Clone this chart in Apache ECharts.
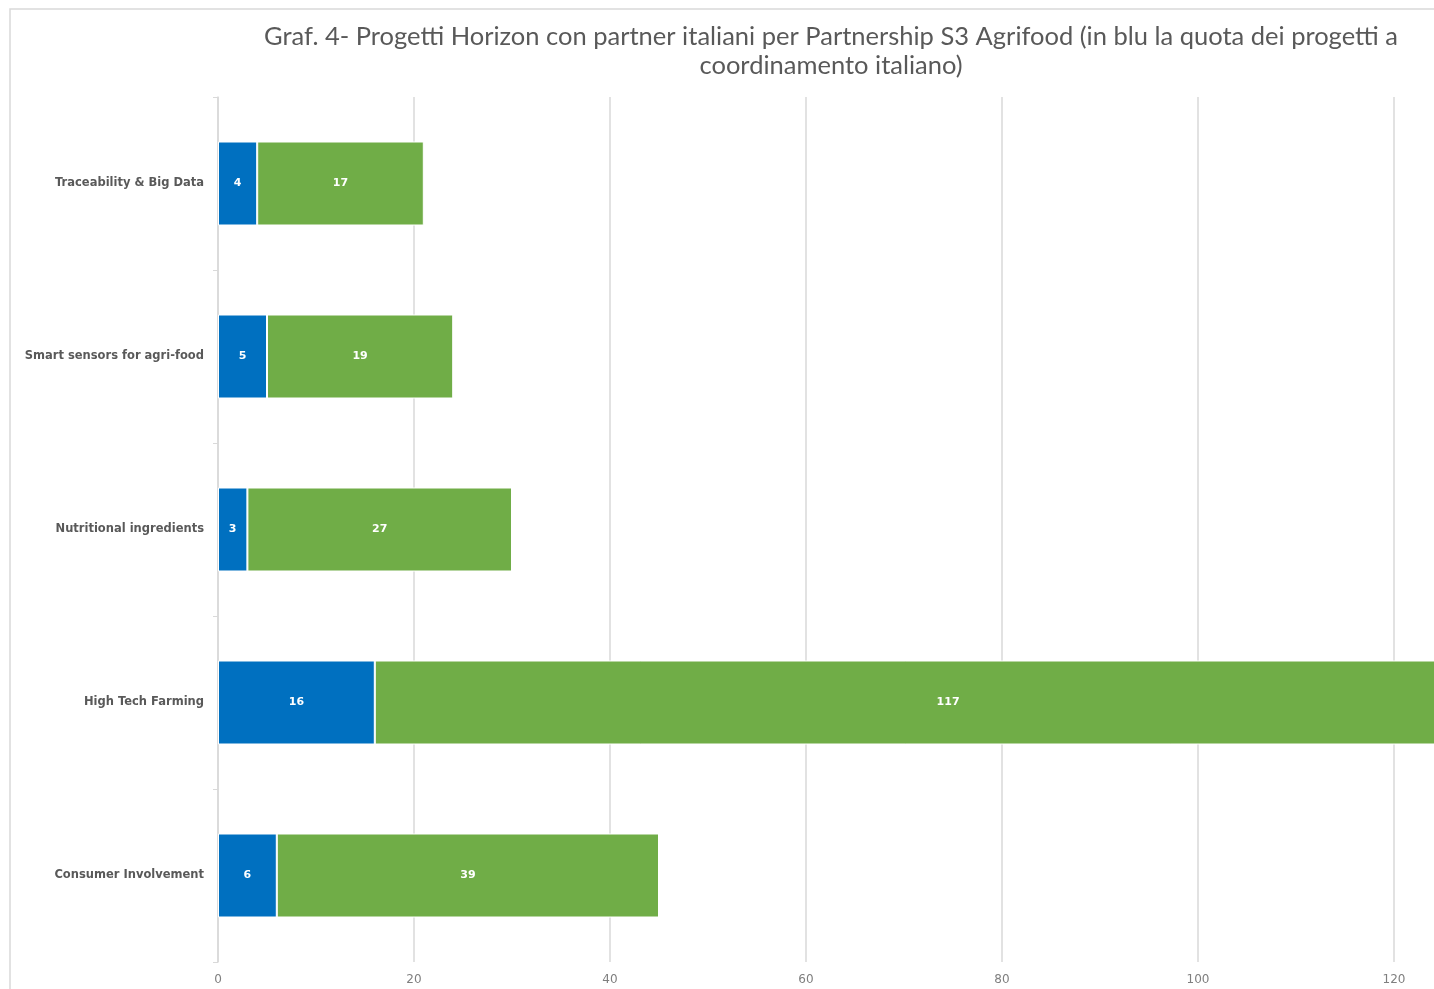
<!DOCTYPE html>
<html>
<head>
<meta charset="utf-8">
<script src="https://cdn.jsdelivr.net/npm/echarts@6/dist/echarts.min.js"></script>
<style>
html,body{margin:0;padding:0;background:#fff;}
#chart{width:1434px;height:989px;}
</style>
</head>
<body>
<div id="chart"></div>
<script>
var categories = ["Consumer Involvement", "High Tech Farming", "Nutritional ingredients", "Smart sensors for agri-food", "Traceability & Big Data"];
var coordIT = [6, 16, 3, 5, 4];
var others = [39, 117, 27, 19, 17];
var titleText = "Graf. 4- Progetti Horizon con partner italiani per Partnership S3 Agrifood (in blu la quota dei progetti a\ncoordinamento italiano)";

var chart = echarts.init(document.getElementById('chart'), null, {renderer: 'canvas'});
var labelStyle = {show: true, position: 'inside', color: '#ffffff', fontWeight: 'bold', fontSize: 11, fontFamily: 'DejaVu Sans'};
chart.setOption({
  animation: false,
  title: {
    text: titleText,
    left: 826, top: 17, textAlign: 'center',
    textStyle: {fontFamily: 'Lato', fontWeight: 'normal', fontSize: 25.5, color: '#595959', lineHeight: 29}
  },
  graphic: [{
    type: 'rect', shape: {x: 10, y: 9, width: 1600, height: 1200},
    style: {fill: 'none', stroke: '#d9d9d9', lineWidth: 1.5}, silent: true
  }],
  grid: {left: 218, top: 97, height: 865, width: 1372, containLabel: false, outerBoundsMode: 'none'},
  xAxis: {
    type: 'value', min: 0, max: 140, interval: 20,
    axisLine: {show: false}, axisTick: {show: false},
    splitLine: {show: true, lineStyle: {color: '#d9d9d9', width: 1.5}},
    axisLabel: {color: '#7f7f7f', fontSize: 12, fontFamily: 'DejaVu Sans', margin: 12}
  },
  yAxis: {
    type: 'category', data: categories,
    axisLine: {show: true, lineStyle: {color: '#d9d9d9', width: 1.5}},
    axisTick: {show: true, length: 5, lineStyle: {color: '#d9d9d9'}},
    axisLabel: {color: '#595959', fontSize: 11.5, fontWeight: 'bold', fontFamily: 'DejaVu Sans', margin: 14}
  },
  series: [
    {name: 'Coordinamento italiano', type: 'bar', stack: 'tot', data: coordIT, barWidth: 84,
     itemStyle: {color: '#0070C0', borderColor: '#ffffff', borderWidth: 1}, label: labelStyle},
    {name: 'Altri', type: 'bar', stack: 'tot', data: others, barWidth: 84,
     itemStyle: {color: '#70AD47', borderColor: '#ffffff', borderWidth: 1}, label: labelStyle}
  ]
});
</script>
</body>
</html>
